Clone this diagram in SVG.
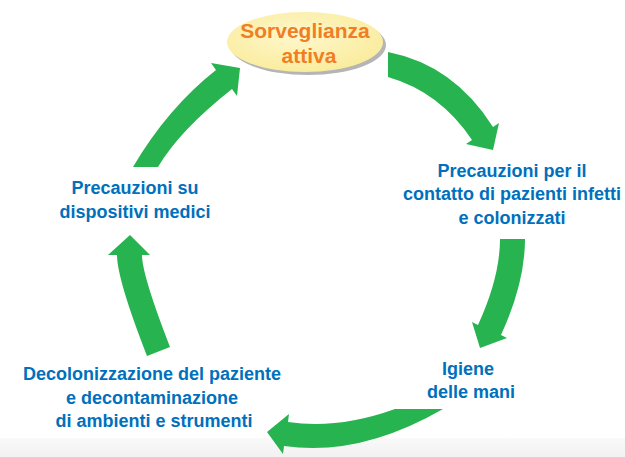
<svg xmlns="http://www.w3.org/2000/svg" width="625" height="457" viewBox="0 0 625 457">
  <defs>
    <radialGradient id="yel" cx="0.45" cy="0.4" r="0.6">
      <stop offset="0" stop-color="#FFF7CC"/>
      <stop offset="1" stop-color="#FAEC9E"/>
    </radialGradient>
    <linearGradient id="band" x1="0" y1="0" x2="0" y2="1">
      <stop offset="0" stop-color="#F9F9F9"/>
      <stop offset="1" stop-color="#F2F2F2"/>
    </linearGradient>
  </defs>
  <style>
    .arrow { fill: #27B34F; }
    .lbl { font-family: "Liberation Sans", Arial, sans-serif; font-weight: bold; font-size: 18px; fill: #0070BC; text-anchor: middle; }
    .top { font-family: "Liberation Sans", Arial, sans-serif; font-weight: bold; font-size: 21px; fill: #F07E24; text-anchor: middle; }
  </style>
  <rect x="0" y="0" width="625" height="457" fill="#FFFFFF"/>
  <rect x="0" y="438" width="625" height="19" fill="url(#band)"/>

  <g id="connectors">
    <path class="arrow" d="M388,52 Q454,65 493,127 L499,123 L493,150 L466,144 L472,140 Q440,92 388,77 Z"/>
    <path class="arrow" d="M525,239 Q525,283 501,335 L507,338 L480,348 L472,322 L478,325 Q500,277 500,239 Z"/>
    <path class="arrow" d="M443,409 Q360,457 284,446 L283,454 L267,432 L289,414 L288,422 Q338,429.5 395,409 Z"/>
    <path class="arrow" d="M147,356 Q117,279 117,255 L108,255 L130,235 L150,255 L142,255 Q142,275 170,347 Z"/>
    <path class="arrow" d="M133,167 Q167.7,108 216,70 L211,63 L240,68 L237,96 L232,89 Q179.6,130.3 158,167 Z"/>
  </g>

  <g id="sorveglianza">
    <ellipse cx="308" cy="45" rx="78" ry="30" fill="#B5B5B5"/>
    <ellipse cx="305" cy="42" rx="78" ry="30" fill="url(#yel)"/>
    <text class="top" x="305" y="38">Sorveglianza</text>
    <text class="top" x="309" y="63">attiva</text>
  </g>

  <g id="precauzioni-contatto">
    <text class="lbl" x="512" y="177">Precauzioni per il</text>
    <text class="lbl" x="512" y="200">contatto di pazienti infetti</text>
    <text class="lbl" x="512" y="224">e colonizzati</text>
  </g>

  <g id="igiene">
    <text class="lbl" x="468" y="375">Igiene</text>
    <text class="lbl" x="471" y="398">delle mani</text>
  </g>

  <g id="decolonizzazione">
    <text class="lbl" x="152" y="380">Decolonizzazione del paziente</text>
    <text class="lbl" x="152" y="404">e decontaminazione</text>
    <text class="lbl" x="154" y="427">di ambienti e strumenti</text>
  </g>

  <g id="dispositivi">
    <text class="lbl" x="135" y="194">Precauzioni su</text>
    <text class="lbl" x="135" y="218">dispositivi medici</text>
  </g>
</svg>
